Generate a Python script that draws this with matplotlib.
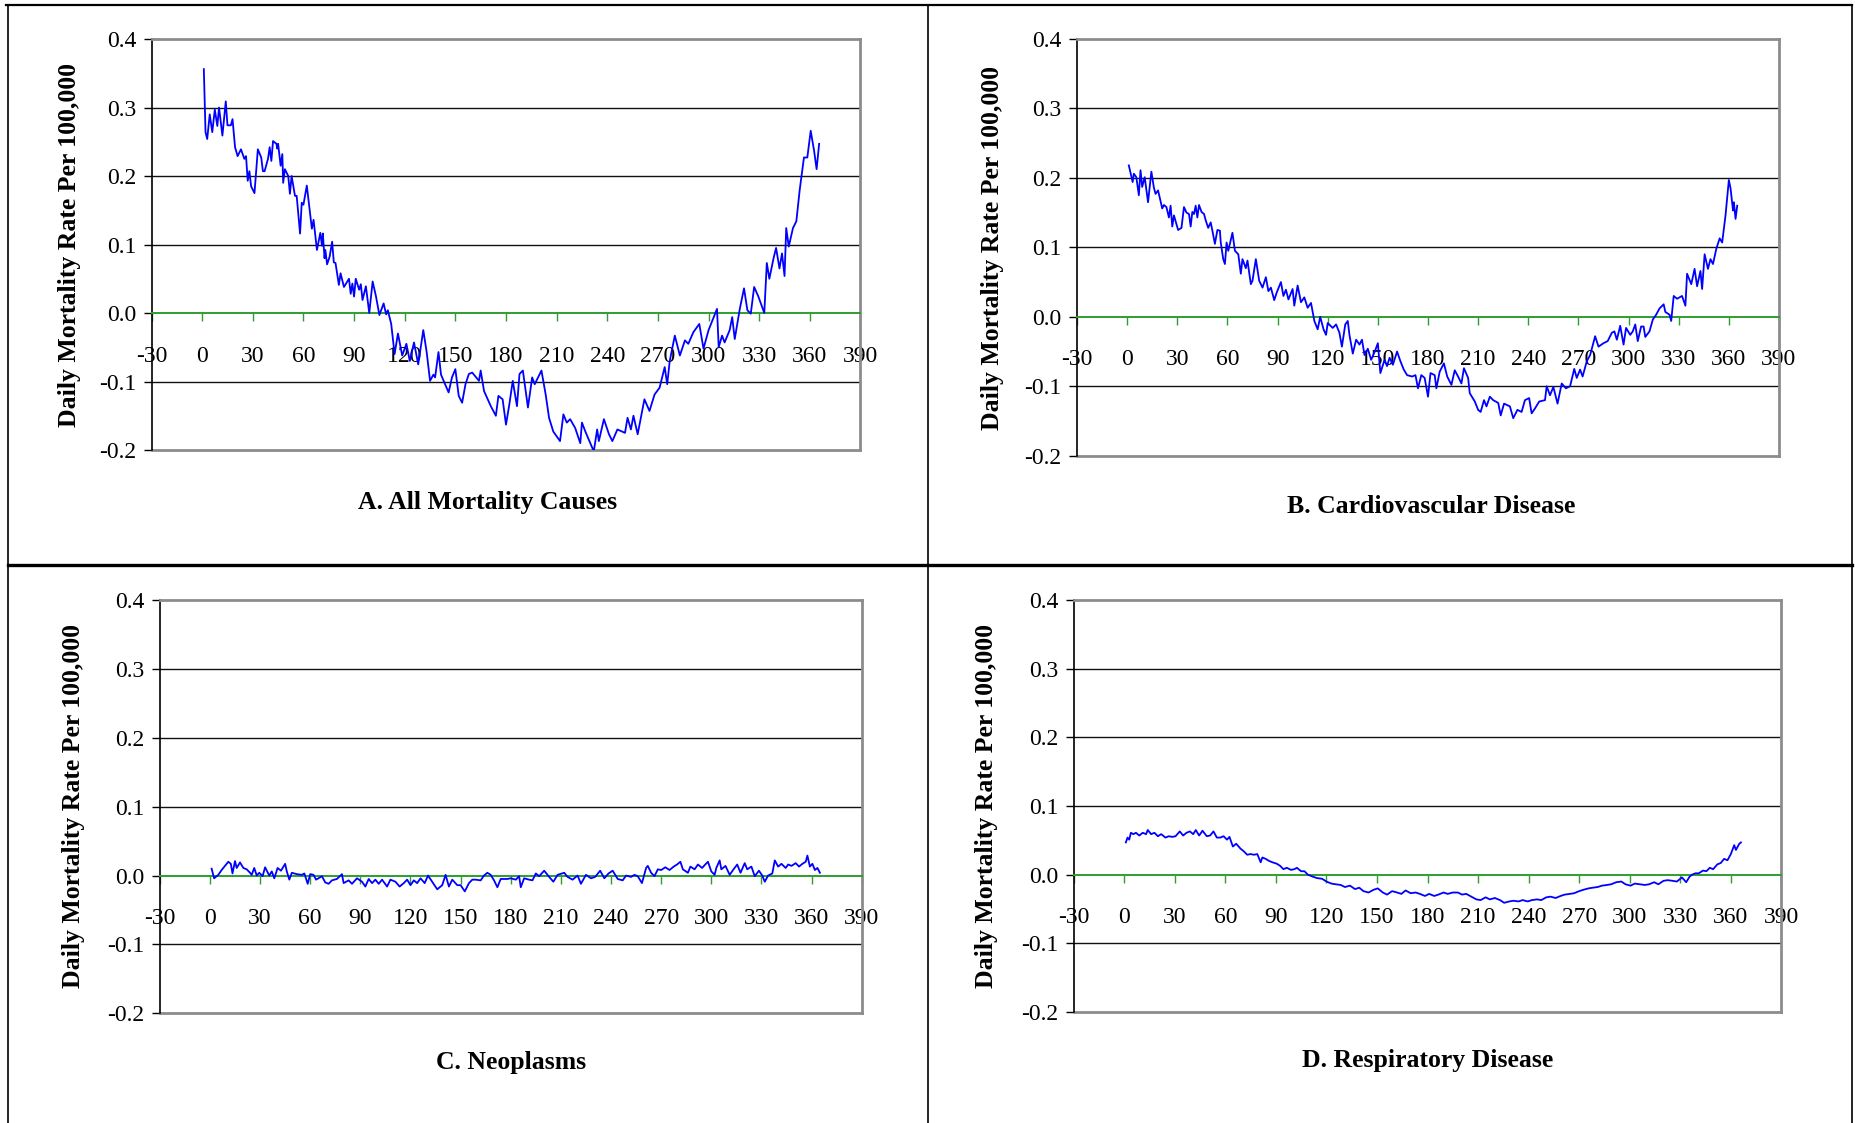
import matplotlib
matplotlib.use("Agg")
import matplotlib.pyplot as plt
from matplotlib.lines import Line2D

plt.rcParams['font.family'] = ['Liberation Serif', 'DejaVu Serif']

W, H = 1856, 1123

# ---------------- data ----------------
days_A = [1, 2, 3, 4.5, 6, 7.5, 9, 10, 12, 14, 15, 17, 18, 19.5, 21, 23, 25, 26, 27, 28, 29, 31, 33, 35, 36, 37, 39, 40, 41, 42, 44, 44.5, 45, 46.5, 47.5, 48, 49, 51, 52, 53, 55, 56, 58, 59, 60, 62, 64, 65, 66, 68, 70, 71, 71.5, 72.5, 73, 74, 75.5, 77, 78, 79, 81, 82, 84, 87, 88, 89, 90, 91, 93, 94, 95, 97, 99, 101, 103, 105, 107.5, 109, 110, 112, 114, 116, 118.5, 121, 123, 125.5, 128, 131, 133, 135, 137, 138, 140, 141.5, 146, 148, 150, 152, 154, 156, 158, 160, 164, 165, 167, 171, 174, 175.5, 178, 180, 182, 184, 186.5, 188, 190, 193, 195.5, 197, 199, 201, 203.5, 205.5, 208, 212, 214, 216, 218, 221, 224, 225, 227, 232, 234, 235, 238, 241, 243, 246, 250.5, 252, 254, 255.5, 258, 262, 265, 268, 271, 274, 275.5, 277, 280, 283, 286, 288, 291, 294.5, 297, 300, 305, 306, 308, 309.5, 312.5, 314, 315.5, 318.5, 321, 323, 325, 327, 329.5, 333, 334.5, 336, 338.5, 340, 342, 343.5, 345, 346, 347.5, 350, 352, 354, 356.5, 358.5, 360.5, 362.5, 364, 365.5]
rate_A = [0.356, 0.264, 0.254, 0.290, 0.264, 0.297, 0.273, 0.300, 0.259, 0.309, 0.274, 0.274, 0.283, 0.242, 0.229, 0.239, 0.225, 0.229, 0.193, 0.207, 0.185, 0.175, 0.239, 0.227, 0.207, 0.207, 0.225, 0.242, 0.222, 0.251, 0.247, 0.240, 0.247, 0.215, 0.232, 0.190, 0.210, 0.200, 0.174, 0.200, 0.171, 0.171, 0.116, 0.161, 0.158, 0.186, 0.144, 0.123, 0.136, 0.092, 0.117, 0.098, 0.116, 0.080, 0.092, 0.071, 0.082, 0.104, 0.074, 0.073, 0.041, 0.058, 0.038, 0.050, 0.028, 0.043, 0.024, 0.050, 0.034, 0.042, 0.019, 0.039, 0.000, 0.046, 0.024, -0.003, 0.014, -0.002, 0.004, -0.016, -0.060, -0.030, -0.062, -0.045, -0.070, -0.043, -0.075, -0.025, -0.057, -0.099, -0.090, -0.094, -0.057, -0.090, -0.116, -0.094, -0.082, -0.121, -0.131, -0.104, -0.089, -0.087, -0.099, -0.084, -0.114, -0.136, -0.150, -0.121, -0.126, -0.163, -0.133, -0.099, -0.136, -0.089, -0.084, -0.138, -0.094, -0.104, -0.094, -0.084, -0.119, -0.153, -0.173, -0.187, -0.148, -0.160, -0.155, -0.168, -0.190, -0.160, -0.173, -0.202, -0.170, -0.187, -0.155, -0.177, -0.187, -0.170, -0.175, -0.153, -0.170, -0.150, -0.177, -0.126, -0.143, -0.119, -0.109, -0.079, -0.104, -0.070, -0.033, -0.062, -0.040, -0.045, -0.028, -0.016, -0.052, -0.025, 0.006, -0.050, -0.033, -0.043, -0.025, -0.006, -0.038, 0.006, 0.036, 0.004, -0.001, 0.038, 0.024, 0.000, 0.073, 0.050, 0.080, 0.095, 0.065, 0.087, 0.054, 0.124, 0.097, 0.124, 0.134, 0.180, 0.227, 0.227, 0.266, 0.237, 0.210, 0.247]

days_B = [1, 3.3, 4, 5.5, 7, 8, 9, 10.5, 12.5, 14.5, 16, 17, 18.5, 21, 22, 23.5, 25, 26, 27, 28, 30.5, 32.5, 34, 35.5, 37, 38, 39, 40, 41, 42, 43, 44.5, 46, 47, 48.5, 50, 51, 52.5, 54, 55.5, 56, 57.5, 58.5, 59.5, 60.5, 63, 64.5, 66.5, 68, 69, 71, 72, 74, 75, 77, 79, 81, 83, 84.5, 86, 88, 89.5, 92, 93.5, 95, 96.5, 99, 100, 102, 104, 106, 108, 110, 112, 114, 115.5, 117.5, 119, 120, 123, 125, 127, 128.5, 130.5, 132, 133, 135, 137, 139, 140.5, 142, 144, 146, 148, 150, 151.5, 154, 155.5, 157, 159, 161.5, 163.5, 165.5, 167.5, 170.5, 172.5, 174, 176, 178, 180, 181.5, 184, 185, 187, 189.5, 191.5, 194, 196, 198, 200, 201.5, 204, 205, 208, 210, 211.5, 213.5, 215, 217, 219, 222, 223.5, 225.5, 229, 231, 233.5, 236, 238, 240.5, 242, 244, 246.5, 250, 251, 253, 255, 257.5, 260, 262.5, 265, 267.5, 269, 271, 272.5, 275, 277, 280, 282, 285, 287.5, 290, 291.5, 293, 295, 297, 298.5, 301, 302.5, 304, 305.5, 307.5, 309, 310, 312.5, 314.5, 316.5, 318.5, 321, 322, 324.5, 325.5, 327, 329, 332, 334, 335, 337.5, 339.5, 341, 343, 344, 345.5, 347.5, 349, 350.5, 352.5, 354.5, 356, 358, 360, 361, 362.5, 363, 364, 365]
rate_B = [0.218, 0.194, 0.206, 0.201, 0.175, 0.211, 0.187, 0.201, 0.165, 0.209, 0.186, 0.177, 0.182, 0.156, 0.161, 0.158, 0.143, 0.160, 0.130, 0.146, 0.125, 0.128, 0.158, 0.150, 0.148, 0.130, 0.151, 0.148, 0.160, 0.143, 0.161, 0.151, 0.148, 0.139, 0.128, 0.136, 0.124, 0.105, 0.125, 0.124, 0.107, 0.083, 0.076, 0.107, 0.095, 0.121, 0.095, 0.090, 0.062, 0.083, 0.070, 0.081, 0.047, 0.052, 0.083, 0.052, 0.042, 0.057, 0.037, 0.042, 0.024, 0.035, 0.050, 0.030, 0.039, 0.025, 0.040, 0.016, 0.045, 0.021, 0.028, 0.013, 0.020, -0.006, -0.018, 0.000, -0.018, -0.026, -0.009, -0.016, -0.011, -0.023, -0.043, -0.011, -0.006, -0.026, -0.053, -0.033, -0.040, -0.033, -0.055, -0.046, -0.062, -0.051, -0.038, -0.081, -0.062, -0.071, -0.059, -0.069, -0.050, -0.064, -0.076, -0.084, -0.086, -0.084, -0.103, -0.084, -0.088, -0.115, -0.081, -0.084, -0.103, -0.079, -0.067, -0.086, -0.098, -0.077, -0.086, -0.096, -0.074, -0.088, -0.110, -0.122, -0.134, -0.137, -0.120, -0.129, -0.115, -0.120, -0.124, -0.142, -0.125, -0.129, -0.146, -0.134, -0.137, -0.120, -0.117, -0.139, -0.132, -0.122, -0.120, -0.100, -0.113, -0.101, -0.125, -0.096, -0.103, -0.100, -0.075, -0.088, -0.076, -0.086, -0.064, -0.055, -0.028, -0.043, -0.038, -0.035, -0.023, -0.021, -0.033, -0.013, -0.040, -0.016, -0.026, -0.021, -0.011, -0.035, -0.014, -0.014, -0.029, -0.021, -0.004, 0.003, 0.012, 0.018, 0.007, 0.003, -0.006, 0.030, 0.026, 0.030, 0.016, 0.062, 0.047, 0.069, 0.044, 0.066, 0.040, 0.090, 0.069, 0.083, 0.076, 0.098, 0.113, 0.107, 0.146, 0.197, 0.185, 0.153, 0.165, 0.141, 0.160]

days_C = [1, 2.5, 5, 7, 9, 11, 12.5, 13.5, 15, 16, 18, 20, 22, 24, 25, 26.5, 28, 29.5, 31.5, 33, 35.5, 37, 38.5, 40.5, 42.5, 45, 46, 47.5, 49, 52, 55, 56.5, 58.5, 60, 62, 63.5, 67, 69, 71, 73, 76, 79, 80, 83, 85, 88, 91, 93, 95, 97, 99, 101, 103, 106, 108, 111, 113.5, 116, 118, 120, 122, 124, 126, 128.5, 130.5, 133, 136, 139, 141, 143, 145, 148, 150, 152.5, 155, 157, 159, 162, 164, 166, 168, 170, 172, 174, 178, 180, 183, 185, 186, 188, 191, 193, 195, 197, 200, 203, 205.5, 208, 212, 214, 217, 220, 222, 225, 228, 230.5, 233.5, 236, 238.5, 241, 244, 247, 249, 252, 254, 256, 258.5, 261, 262, 264, 266, 268, 270, 272.5, 275, 277.5, 279.5, 281.5, 283, 286, 287.5, 290, 292, 294.5, 296, 298, 300, 302, 303, 305, 306, 308.5, 311, 313, 315.5, 317.5, 320, 321.5, 324, 326, 328.5, 330.5, 332, 334, 336.5, 338, 340, 342, 344.5, 346, 348, 350.5, 352.5, 354.5, 356.5, 357.5, 359, 360.5, 362, 363.5, 365]
rate_C = [0.010, -0.004, 0.001, 0.008, 0.014, 0.020, 0.017, 0.003, 0.021, 0.011, 0.019, 0.011, 0.009, 0.004, 0.001, 0.011, 0.000, 0.004, -0.001, 0.012, 0.000, 0.006, -0.004, 0.011, 0.007, 0.017, 0.006, -0.006, 0.004, 0.002, 0.001, 0.003, -0.012, 0.002, 0.001, -0.006, -0.001, -0.010, -0.012, -0.007, -0.005, 0.002, -0.011, -0.007, -0.012, -0.004, -0.009, -0.016, -0.005, -0.011, -0.006, -0.012, -0.006, -0.016, -0.006, -0.009, -0.016, -0.011, -0.006, -0.014, -0.007, -0.011, -0.004, -0.011, 0.000, -0.009, -0.020, -0.014, 0.001, -0.016, -0.006, -0.014, -0.014, -0.023, -0.011, -0.006, -0.006, -0.007, 0.000, 0.004, 0.001, -0.007, -0.017, -0.005, -0.005, -0.004, -0.006, -0.001, -0.017, -0.004, -0.006, -0.007, 0.003, -0.001, 0.007, -0.002, -0.009, 0.001, 0.004, -0.002, -0.006, 0.000, -0.012, 0.001, -0.004, -0.002, 0.007, -0.004, 0.003, 0.007, -0.005, -0.007, 0.000, -0.002, 0.001, -0.001, -0.011, 0.011, 0.014, 0.004, -0.001, 0.009, 0.008, 0.012, 0.008, 0.013, 0.016, 0.020, 0.009, 0.004, 0.013, 0.009, 0.016, 0.011, 0.015, 0.020, 0.006, 0.001, 0.011, 0.022, 0.009, 0.014, 0.001, 0.008, 0.016, 0.004, 0.018, 0.009, 0.013, -0.001, 0.007, 0.000, -0.009, 0.000, 0.003, 0.022, 0.013, 0.017, 0.011, 0.016, 0.014, 0.018, 0.013, 0.017, 0.020, 0.029, 0.013, 0.017, 0.008, 0.011, 0.004]

days_D = [1, 2, 3, 4, 5.5, 7, 9, 11, 13, 14, 16, 18, 20, 22, 24.5, 26.5, 28.5, 30.5, 33, 35, 37, 39, 41, 42.5, 44.5, 46.5, 49, 51, 53, 55, 57, 59, 61, 62.5, 64.5, 66.5, 69, 71, 73, 75, 77, 79, 81, 82, 84, 86, 88, 90.5, 92.5, 94.5, 96.5, 99, 101, 102.5, 105, 107, 109, 112, 114.5, 117.5, 120, 123, 125.5, 128.5, 131, 134, 137, 139.5, 142, 145, 148, 150.5, 153.5, 156, 159, 162, 164.5, 167, 170, 173, 175.5, 178.5, 181, 184, 186.5, 189.5, 192, 195, 198, 200.5, 203, 206, 209, 211.5, 214.5, 217, 220, 223, 225.5, 228.5, 231, 234, 236.5, 239.5, 242, 245, 247.5, 250.5, 253, 256, 259, 261.5, 264.5, 267, 270, 272.5, 275.5, 278, 281, 283.5, 286.5, 289, 292, 295, 297.5, 300.5, 303, 306, 309, 311.5, 314.5, 317, 320, 322.5, 325.5, 328, 331, 333.5, 335.5, 337, 339, 341, 343.5, 345.5, 347.5, 349.5, 352, 354, 356, 358, 360, 362, 363, 365, 366]
rate_D = [0.047, 0.054, 0.051, 0.061, 0.059, 0.061, 0.057, 0.061, 0.059, 0.065, 0.059, 0.061, 0.056, 0.059, 0.054, 0.056, 0.055, 0.056, 0.063, 0.057, 0.061, 0.063, 0.059, 0.065, 0.057, 0.064, 0.056, 0.057, 0.063, 0.054, 0.054, 0.056, 0.051, 0.055, 0.041, 0.045, 0.038, 0.034, 0.029, 0.030, 0.029, 0.030, 0.018, 0.025, 0.023, 0.020, 0.018, 0.016, 0.013, 0.008, 0.010, 0.007, 0.008, 0.010, 0.005, 0.005, 0.000, -0.003, -0.005, -0.006, -0.010, -0.013, -0.014, -0.015, -0.018, -0.016, -0.021, -0.019, -0.024, -0.026, -0.022, -0.020, -0.026, -0.029, -0.024, -0.026, -0.028, -0.023, -0.027, -0.026, -0.028, -0.031, -0.028, -0.031, -0.029, -0.026, -0.028, -0.026, -0.026, -0.029, -0.028, -0.032, -0.036, -0.037, -0.033, -0.036, -0.034, -0.037, -0.041, -0.039, -0.038, -0.039, -0.037, -0.039, -0.037, -0.036, -0.037, -0.033, -0.032, -0.034, -0.031, -0.029, -0.028, -0.027, -0.024, -0.022, -0.020, -0.019, -0.018, -0.016, -0.015, -0.014, -0.011, -0.010, -0.014, -0.016, -0.013, -0.014, -0.015, -0.014, -0.011, -0.014, -0.009, -0.008, -0.009, -0.010, -0.004, -0.011, -0.003, 0.000, 0.002, 0.002, 0.006, 0.005, 0.010, 0.008, 0.015, 0.017, 0.023, 0.021, 0.030, 0.043, 0.036, 0.045, 0.047]

panel_titles = ["A. All Mortality Causes", "B. Cardiovascular Disease",
                "C. Neoplasms", "D. Respiratory Disease"]
y_label = "Daily Mortality Rate Per 100,000"
x_ticks = [-30, 0, 30, 60, 90, 120, 150, 180, 210, 240, 270, 300, 330, 360, 390]
y_ticks = [-0.2, -0.1, 0.0, 0.1, 0.2, 0.3, 0.4]
y_tick_labels = ["-0.2", "-0.1", "0.0", "0.1", "0.2", "0.3", "0.4"]

series = [(days_A, rate_A), (days_B, rate_B), (days_C, rate_C), (days_D, rate_D)]

# ---------------- layout (pixel boxes: left, right, top, bottom) ----------------
boxes = [(151.5, 860.5, 39, 450), (1077, 1779, 39, 455.7),
         (159.8, 861.7, 600, 1013.3), (1073.6, 1781.4, 600, 1012)]
ylabel_pos = [(70, 245), (993, 248), (74, 806), (987, 806)]
title_pos = [(488, 503), (1431, 506), (511, 1062), (1428, 1061)]

fig = plt.figure(figsize=(W / 100, H / 100), dpi=100)
fig.patch.set_facecolor('white')

GREEN = '#2e9e2e'
GRAY = '#8c8c8c'

for i, (dx, dy) in enumerate(series):
    l, r, t, b = boxes[i]
    ax = fig.add_axes([l / W, 1 - b / H, (r - l) / W, (b - t) / H])
    ax.set_xlim(-30, 390)
    ax.set_ylim(-0.2, 0.4)
    for v in [-0.1, 0.1, 0.2, 0.3]:
        ax.axhline(v, color='#111111', lw=1.0, zorder=1)
    ax.plot([-30, 390], [-0.2, -0.2], color=GRAY, lw=2.0, clip_on=False, zorder=2)
    ax.plot(dx, dy, color='#0000ff', lw=1.3, zorder=3)

    ax.spines['top'].set_color(GRAY)
    ax.spines['top'].set_linewidth(2.0)
    ax.spines['right'].set_color(GRAY)
    ax.spines['right'].set_linewidth(2.0)
    ax.spines['left'].set_color('black')
    ax.spines['left'].set_linewidth(1.2)
    ax.spines['bottom'].set_position(('data', 0))
    ax.spines['bottom'].set_color(GREEN)
    ax.spines['bottom'].set_linewidth(1.4)
    ax.spines['bottom'].set_zorder(2.5)

    ax.set_xticks(x_ticks)
    ax.set_xticklabels([str(v) for v in x_ticks])
    ax.set_yticks(y_ticks)
    ax.set_yticklabels(y_tick_labels)
    ax.tick_params(axis='x', direction='out', length=6, width=1.0, color=GREEN,
                   labelcolor='black', labelsize=17, pad=17.5)
    ax.tick_params(axis='y', direction='out', length=6, width=1.0, color='black',
                   labelcolor='black', labelsize=17, pad=5)

    fig.text(ylabel_pos[i][0] / W, 1 - ylabel_pos[i][1] / H, y_label,
             rotation=90, ha='center', va='center', fontsize=18.5, fontweight='bold')
    fig.text(title_pos[i][0] / W, 1 - title_pos[i][1] / H, panel_titles[i],
             ha='center', va='center', fontsize=18.5, fontweight='bold')

# ---------------- table cell borders ----------------
def fline(x0, y0, x1, y1, lw):
    fig.add_artist(Line2D([x0 / W, x1 / W], [1 - y0 / H, 1 - y1 / H],
                          transform=fig.transFigure, color='black', lw=lw))

fline(6, 5, 1852, 5, 1.6)
fline(8, 5, 8, H, 1.2)
fline(928, 5, 928, H, 1.2)
fline(1852, 5, 1852, H, 1.2)
fline(8, 565, 1852, 565, 2.4)

fig.savefig("out.png", dpi=100, facecolor='white')
